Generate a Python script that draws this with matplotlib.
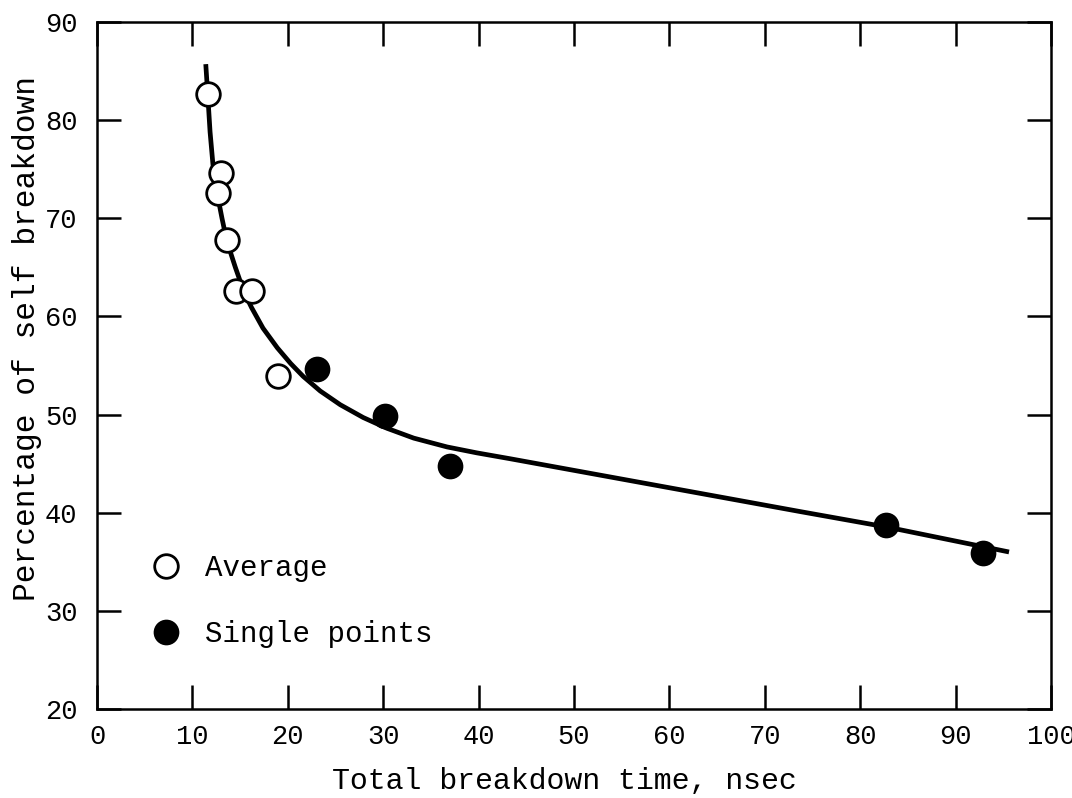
import matplotlib
matplotlib.use("Agg")
import matplotlib.pyplot as plt
from matplotlib.lines import Line2D

# Data
avg_x = [11.6, 12.95, 12.7, 13.6, 14.6, 16.2, 19.0]
avg_y = [82.7, 74.6, 72.6, 67.8, 62.6, 62.6, 53.9]

single_x = [23.1, 30.2, 37.0, 82.7, 92.9]
single_y = [54.6, 49.9, 44.8, 38.7, 35.9]

# hand-drawn fitted curve
curve_x = [11.4, 11.6, 11.85, 12.15, 12.6, 13.1, 13.6, 14.5, 15.4, 16.2,
           17.4, 18.9, 20.3, 21.6, 23.4, 25.5, 27.9, 30.4, 33.2, 36.7, 39.8,
           43.3, 73.8, 83.0, 95.6]
curve_y = [85.7, 82.7, 78.8, 75.5, 72.5, 70.0, 67.7, 65.0, 62.5, 60.9,
           58.8, 56.8, 55.2, 53.9, 52.4, 51.0, 49.7, 48.6, 47.6, 46.7, 46.1,
           45.5, 40.1, 38.5, 36.0]

x_ticks = [0, 10, 20, 30, 40, 50, 60, 70, 80, 90, 100]
y_ticks = [20, 30, 40, 50, 60, 70, 80, 90]

FONT = "Liberation Mono"
plt.rcParams['font.family'] = [FONT, 'DejaVu Sans Mono']

fig = plt.figure(figsize=(10.72, 7.98), dpi=100)
ax = fig.add_axes([0.0905, 0.1115, 0.8899, 0.861])

ax.plot(curve_x, curve_y, color='black', lw=3.4, solid_capstyle='butt',
        solid_joinstyle='round', zorder=2)
ax.plot(avg_x, avg_y, linestyle='none', marker='o', ms=17, mfc='white',
        mec='black', mew=2.0, zorder=3)
ax.plot(single_x, single_y, linestyle='none', marker='o', ms=17, mfc='black',
        mec='black', mew=1.5, zorder=3)

ax.set_xlim(0, 100)
ax.set_ylim(20, 90)
ax.set_xticks(x_ticks)
ax.set_yticks(y_ticks)
ax.tick_params(axis='both', which='major', direction='in', length=17, width=1.8,
               labelsize=19.5, top=True, right=True)
ax.tick_params(axis='x', pad=11)
ax.tick_params(axis='y', pad=14)
for s in ax.spines.values():
    s.set_linewidth(1.8)

ax.set_xlabel("Total breakdown time, nsec", fontsize=21.5)
ax.set_ylabel("Percentage of self breakdown", fontsize=22.5)
ax.xaxis.set_label_coords(0.49, -0.085)
ax.yaxis.set_label_coords(-0.058, 0.54)

handles = [Line2D([], [], linestyle='none', marker='o', ms=17, mfc='white', mec='black', mew=2.0),
           Line2D([], [], linestyle='none', marker='o', ms=17, mfc='black', mec='black', mew=1.5)]
leg = ax.legend(handles, ["Average", "Single points"], loc='upper left',
                bbox_to_anchor=(0.057, 0.225), frameon=False, fontsize=21,
                handlelength=1.0, handletextpad=0.85, labelspacing=1.3,
                borderpad=0, borderaxespad=0, numpoints=1)

fig.savefig("out.png", dpi=100)
